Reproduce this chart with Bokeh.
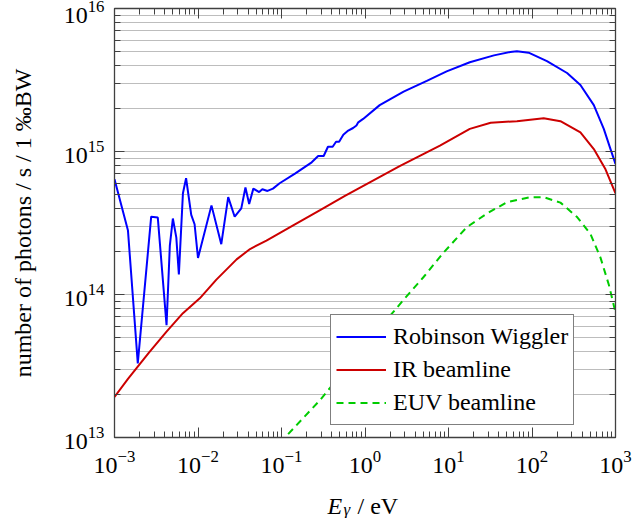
from bokeh.plotting import figure
from bokeh.layouts import column
from bokeh.models import LogAxis, FixedTicker, Label, Legend, LegendItem, CustomJSTickFormatter, Range1d
from bokeh.embed import file_html
from bokeh.resources import INLINE

FONT = "Liberation Serif"

# ---- data ----
rw_x = [1.0e-3, 1.45e-3, 1.9e-3, 2.75e-3, 3.3e-3, 4.2e-3, 4.6e-3, 5.0e-3, 5.5e-3, 5.9e-3,
        6.6e-3, 7.2e-3, 8.3e-3, 9.1e-3, 1.0e-2, 1.45e-2, 1.9e-2, 2.3e-2, 2.75e-2, 3.3e-2,
        3.7e-2, 4.1e-2, 4.6e-2, 5.4e-2, 5.9e-2, 6.8e-2, 7.9e-2, 9.5e-2, 0.145, 0.23,
        0.275, 0.32, 0.36, 0.41, 0.45, 0.49, 0.55, 0.63, 0.72, 0.79,
        0.83, 0.95, 1.5, 2.9, 5.5, 9.5, 18, 35, 55, 66,
        91, 151, 263, 380, 550, 724, 871, 1000]
rw_y = [6.4e14, 2.8e14, 3.3e13, 3.5e14, 3.45e14, 6.1e13, 2.2e14, 3.4e14, 2.5e14, 1.38e14,
        5.1e14, 6.5e14, 3.6e14, 3.1e14, 1.8e14, 4.2e14, 2.25e14, 4.8e14, 3.5e14, 4.0e14,
        5.6e14, 4.3e14, 5.5e14, 5.2e14, 5.45e14, 5.3e14, 5.5e14, 6.0e14, 7.0e14, 8.4e14,
        9.3e14, 9.3e14, 1.08e15, 1.08e15, 1.17e15, 1.17e15, 1.31e15, 1.40e15, 1.46e15, 1.52e15,
        1.60e15, 1.69e15, 2.11e15, 2.62e15, 3.12e15, 3.63e15, 4.21e15, 4.70e15, 4.97e15, 5.02e15,
        4.91e15, 4.29e15, 3.54e15, 2.92e15, 2.11e15, 1.44e15, 1.04e15, 8.2e14]

ir_x = [1.0e-3, 1.45e-3, 2.6e-3, 4.2e-3, 6.6e-3, 1.05e-2, 1.66e-2, 2.9e-2, 4.2e-2, 6.6e-2,
        0.138, 0.29, 0.575, 2.6, 7.9, 18, 32, 66, 138, 219,
        380, 550, 759, 1000]
ir_y = [1.92e13, 2.57e13, 3.94e13, 5.5e13, 7.4e13, 9.4e13, 1.27e14, 1.76e14, 2.08e14, 2.38e14,
        3.04e14, 3.89e14, 4.89e14, 7.9e14, 1.10e15, 1.44e15, 1.59e15, 1.63e15, 1.71e15, 1.63e15,
        1.36e15, 1.04e15, 7.5e14, 5.1e14]

euv_x = [0.063, 0.11, 0.29, 1.0, 3.0, 5.0, 8.7, 16.6, 28.8, 50,
         95, 138, 219, 347, 501, 661, 832, 1000]
euv_y = [6.8e12, 1.0e13, 1.83e13, 4.4e13, 9.4e13, 1.32e14, 1.96e14, 2.96e14, 3.68e14, 4.42e14,
         4.79e14, 4.79e14, 4.39e14, 3.48e14, 2.65e14, 1.81e14, 1.17e14, 7.5e13]

x_major = [1e-3, 1e-2, 1e-1, 1e0, 1e1, 1e2, 1e3]
y_major = [1e13, 1e14, 1e15, 1e16]
series_labels = ["Robinson Wiggler", "IR beamline", "EUV beamline"]
y_label = "number of photons / s / 1 \u2030BW"

x_minor = [m * d for d in x_major[:-1] for m in range(2, 10)]
y_minor = [m * d for d in y_major[:-1] for m in range(2, 10)]

W = 632
p = figure(width=W, height=478, x_axis_type="log", y_axis_type="log",
           x_range=(1e-3, 1e3), y_range=(1e13, 1e16),
           output_backend="svg", toolbar_location=None,
           min_border_left=114, min_border_right=17, min_border_top=8, min_border_bottom=41)
p.background_fill_color = "white"
p.border_fill_color = "white"
p.outline_line_color = "#404040"
p.outline_line_width = 1.3

xt = FixedTicker(ticks=x_major, minor_ticks=x_minor)
yt = FixedTicker(ticks=y_major, minor_ticks=y_minor)

p.xaxis.ticker = xt
p.yaxis.ticker = yt
p.xgrid.visible = False
p.ygrid.ticker = yt
p.ygrid.grid_line_color = "#bdbdbd"
p.ygrid.grid_line_width = 1
p.ygrid.minor_grid_line_color = "#bdbdbd"
p.ygrid.minor_grid_line_width = 1

for ax in (p.xaxis[0], p.yaxis[0]):
    ax.major_label_text_font = FONT
    ax.major_label_text_font_size = "24px"
    ax.major_label_text_color = "black"
    ax.major_tick_in = 10
    ax.major_tick_out = 0
    ax.minor_tick_in = 6
    ax.minor_tick_out = 0
    ax.axis_line_color = "#404040"
    ax.major_tick_line_color = "#404040"
    ax.minor_tick_line_color = "#404040"
    ax.major_label_standoff = 10
p.xaxis.major_label_standoff = 13

p.yaxis.axis_label = y_label
p.yaxis.axis_label_text_font = FONT
p.yaxis.axis_label_text_font_size = "24px"
p.yaxis.axis_label_text_font_style = "normal"
p.yaxis.axis_label_text_color = "black"
p.yaxis.axis_label_standoff = 25

empty = CustomJSTickFormatter(code="return ''")
top = LogAxis(ticker=xt, formatter=empty, major_tick_in=10, major_tick_out=0,
              minor_tick_in=6, minor_tick_out=0, major_label_standoff=0,
              axis_line_color="#404040", major_tick_line_color="#404040",
              minor_tick_line_color="#404040")
right = LogAxis(ticker=yt, formatter=empty, major_tick_in=10, major_tick_out=0,
                minor_tick_in=6, minor_tick_out=0, major_label_standoff=0,
                axis_line_color="#404040", major_tick_line_color="#404040",
                minor_tick_line_color="#404040")
p.add_layout(top, "above")
p.add_layout(right, "right")

r1 = p.line(rw_x, rw_y, line_color="#0000ff", line_width=2)
r2 = p.line(ir_x, ir_y, line_color="#cc0000", line_width=2)
r3 = p.line(euv_x, euv_y, line_color="#00cc00", line_width=2, line_dash="7 5")

legend = Legend(items=[LegendItem(label=series_labels[0], renderers=[r1]),
                       LegendItem(label=series_labels[1], renderers=[r2]),
                       LegendItem(label=series_labels[2], renderers=[r3])],
                location=(216, 12))
legend.label_text_font = FONT
legend.label_text_font_size = "24px"
legend.label_text_color = "black"
legend.border_line_color = "black"
legend.border_line_width = 1
legend.background_fill_alpha = 1
legend.padding = 5
legend.spacing = 0
legend.margin = 0
legend.glyph_width = 50
legend.glyph_height = 33
legend.label_height = 33
legend.label_standoff = 7
p.add_layout(legend)

# x axis label strip: E_gamma / eV (frame aligned with the main plot frame)
q = figure(width=W, height=40, x_axis_type=None, y_axis_type=None,
           x_range=Range1d(0, 1), y_range=Range1d(0, 1),
           output_backend="svg", toolbar_location=None,
           min_border_left=114, min_border_right=17, min_border_top=0, min_border_bottom=0)
q.outline_line_color = None
q.background_fill_color = "white"
q.border_fill_color = "white"
q.add_layout(Label(x=213, y=13, x_units="screen", y_units="screen", text="E",
                   text_font=FONT, text_font_size="24px", text_font_style="italic",
                   text_color="black", text_baseline="alphabetic"))
q.add_layout(Label(x=229, y=9, x_units="screen", y_units="screen", text="\u03b3",
                   text_font=FONT, text_font_size="17px", text_font_style="italic",
                   text_color="black", text_baseline="alphabetic"))
q.add_layout(Label(x=243, y=13, x_units="screen", y_units="screen", text="/ eV",
                   text_font=FONT, text_font_size="24px",
                   text_color="black", text_baseline="alphabetic"))

layout = column(p, q, spacing=0)
open("out.html", "w").write(file_html(layout, INLINE))
